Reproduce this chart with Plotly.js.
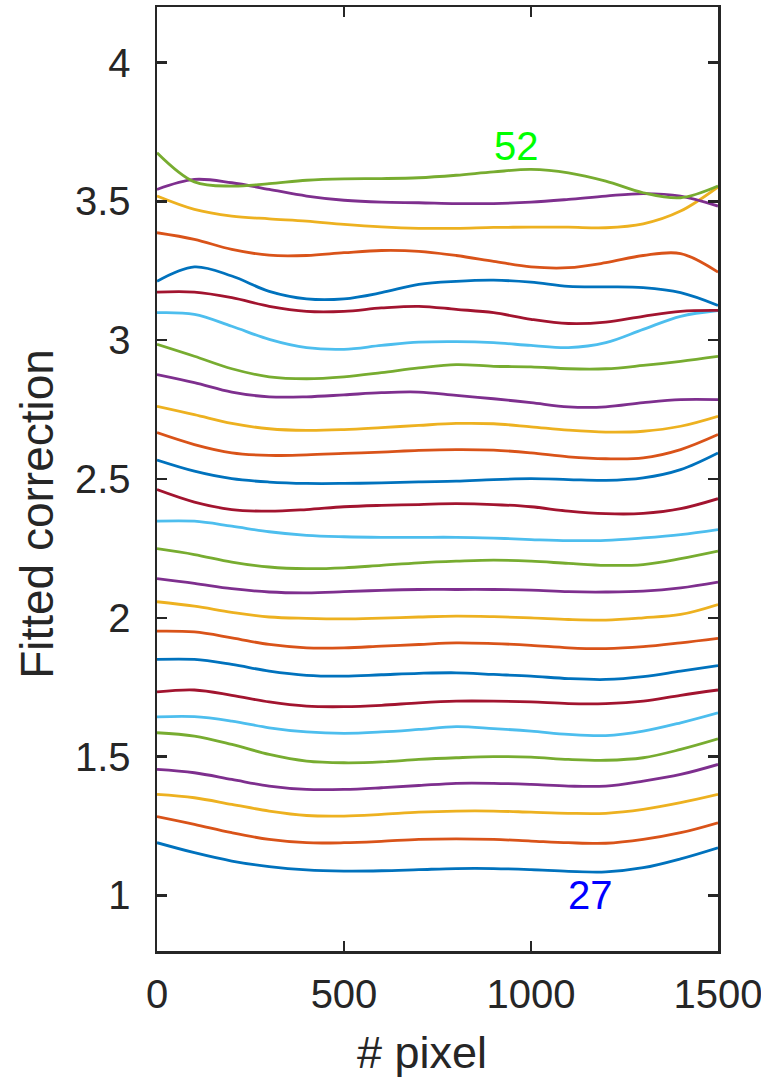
<!DOCTYPE html>
<html>
<head>
<meta charset="utf-8">
<script src="https://cdn.plot.ly/plotly-3.0.1.min.js"></script>
<style>
  html, body { margin: 0; padding: 0; background: #ffffff; }
  #chart { width: 761px; height: 1079px; }
</style>
</head>
<body>
<div id="chart"></div>
<script>
// x positions (pixel index)
const pixelX = [0, 100, 200, 300, 400, 500, 600, 700, 800, 900, 1000, 1100, 1200, 1300, 1400, 1500];

// Fitted correction curves, numbered 27 .. 52 (bottom to top)
const curve27 = [1.190, 1.154, 1.124, 1.104, 1.092, 1.088, 1.089, 1.093, 1.097, 1.097, 1.093, 1.087, 1.085, 1.100, 1.132, 1.172];
const curve28 = [1.284, 1.256, 1.226, 1.202, 1.190, 1.190, 1.195, 1.202, 1.204, 1.202, 1.196, 1.190, 1.188, 1.202, 1.226, 1.262];
const curve29 = [1.364, 1.352, 1.328, 1.304, 1.288, 1.286, 1.292, 1.300, 1.304, 1.304, 1.300, 1.296, 1.296, 1.310, 1.334, 1.364];
const curve30 = [1.454, 1.442, 1.418, 1.394, 1.382, 1.382, 1.388, 1.396, 1.404, 1.404, 1.400, 1.394, 1.394, 1.412, 1.436, 1.472];
const curve31 = [1.586, 1.574, 1.544, 1.508, 1.484, 1.478, 1.481, 1.490, 1.496, 1.500, 1.498, 1.490, 1.487, 1.496, 1.526, 1.564];
const curve32 = [1.643, 1.644, 1.628, 1.604, 1.589, 1.584, 1.589, 1.598, 1.608, 1.601, 1.592, 1.580, 1.576, 1.592, 1.622, 1.658];
const curve33 = [1.733, 1.740, 1.721, 1.697, 1.682, 1.680, 1.685, 1.694, 1.700, 1.700, 1.697, 1.691, 1.691, 1.700, 1.721, 1.740];
const curve34 = [1.850, 1.850, 1.832, 1.808, 1.793, 1.790, 1.795, 1.800, 1.802, 1.796, 1.790, 1.781, 1.778, 1.788, 1.808, 1.828];
const curve35 = [1.952, 1.949, 1.928, 1.904, 1.892, 1.892, 1.898, 1.904, 1.910, 1.907, 1.901, 1.892, 1.889, 1.896, 1.910, 1.926];
const curve36 = [2.058, 2.042, 2.020, 2.003, 1.998, 1.996, 1.999, 2.003, 2.006, 2.004, 2.000, 1.994, 1.992, 2.000, 2.012, 2.048];
const curve37 = [2.141, 2.124, 2.105, 2.093, 2.090, 2.094, 2.099, 2.102, 2.102, 2.102, 2.100, 2.094, 2.093, 2.096, 2.108, 2.129];
const curve38 = [2.249, 2.228, 2.201, 2.183, 2.177, 2.180, 2.189, 2.198, 2.204, 2.208, 2.204, 2.196, 2.189, 2.192, 2.213, 2.240];
const curve39 = [2.348, 2.348, 2.330, 2.310, 2.297, 2.292, 2.290, 2.290, 2.290, 2.287, 2.282, 2.278, 2.279, 2.288, 2.300, 2.318];
const curve40 = [2.462, 2.417, 2.390, 2.384, 2.390, 2.400, 2.405, 2.408, 2.411, 2.408, 2.400, 2.384, 2.375, 2.376, 2.393, 2.429];
const curve41 = [2.568, 2.528, 2.501, 2.489, 2.484, 2.484, 2.486, 2.490, 2.492, 2.498, 2.501, 2.498, 2.495, 2.504, 2.534, 2.594];
const curve42 = [2.667, 2.624, 2.594, 2.585, 2.587, 2.592, 2.597, 2.603, 2.606, 2.604, 2.594, 2.580, 2.573, 2.576, 2.606, 2.660];
const curve43 = [2.762, 2.732, 2.700, 2.681, 2.675, 2.678, 2.685, 2.693, 2.700, 2.699, 2.688, 2.676, 2.669, 2.672, 2.690, 2.726];
const curve44 = [2.876, 2.847, 2.813, 2.796, 2.796, 2.803, 2.811, 2.813, 2.801, 2.789, 2.775, 2.760, 2.760, 2.775, 2.786, 2.786];
const curve45 = [2.985, 2.942, 2.897, 2.868, 2.861, 2.868, 2.883, 2.900, 2.912, 2.906, 2.904, 2.897, 2.897, 2.909, 2.924, 2.942];
const curve46 = [3.099, 3.093, 3.050, 3.003, 2.973, 2.967, 2.981, 2.993, 2.995, 2.991, 2.981, 2.973, 2.991, 3.039, 3.086, 3.107];
const curve47 = [3.173, 3.173, 3.153, 3.122, 3.104, 3.104, 3.116, 3.122, 3.111, 3.099, 3.075, 3.060, 3.065, 3.086, 3.104, 3.107];
const curve48 = [3.212, 3.264, 3.231, 3.176, 3.149, 3.149, 3.171, 3.201, 3.212, 3.216, 3.209, 3.194, 3.192, 3.189, 3.171, 3.125];
const curve49 = [3.387, 3.363, 3.327, 3.306, 3.305, 3.315, 3.323, 3.320, 3.305, 3.284, 3.264, 3.261, 3.279, 3.305, 3.312, 3.245];
const curve50 = [3.519, 3.471, 3.447, 3.437, 3.429, 3.417, 3.408, 3.403, 3.403, 3.406, 3.407, 3.407, 3.405, 3.419, 3.465, 3.552];
const curve51 = [3.543, 3.579, 3.567, 3.543, 3.519, 3.504, 3.497, 3.495, 3.492, 3.492, 3.497, 3.507, 3.519, 3.528, 3.519, 3.483];
const curve52 = [3.675, 3.570, 3.555, 3.564, 3.576, 3.581, 3.582, 3.585, 3.594, 3.606, 3.615, 3.603, 3.573, 3.531, 3.513, 3.555];

const curveIds = [27, 28, 29, 30, 31, 32, 33, 34, 35, 36, 37, 38, 39, 40, 41, 42, 43, 44, 45, 46, 47, 48, 49, 50, 51, 52];
const curveValues = [curve27, curve28, curve29, curve30, curve31, curve32, curve33, curve34, curve35, curve36, curve37, curve38, curve39,
                     curve40, curve41, curve42, curve43, curve44, curve45, curve46, curve47, curve48, curve49, curve50, curve51, curve52];

// Label texts and their positions (data coords)
const labelTexts = ['52', '27'];
const labelX = [960, 1158];
const labelY = [3.698, 1.0];
const labelColors = ['#00FF00', '#0000FF'];

const xTickVals = [0, 500, 1000, 1500];
const yTickVals = [1, 1.5, 2, 2.5, 3, 3.5, 4];
const yTickText = ['1', '1.5', '2', '2.5', '3', '3.5', '4'];

const palette = ['#0072BD', '#D95319', '#EDB120', '#7E2F8E', '#77AC30', '#4DBEEE', '#A2142F'];

const traces = curveValues.map((vals, i) => ({
  type: 'scatter',
  mode: 'lines',
  x: pixelX,
  y: vals,
  name: String(curveIds[i]),
  line: { color: palette[i % palette.length], width: 2.8, shape: 'spline', smoothing: 1 },
  hoverinfo: 'skip'
}));

const axisColor = '#262626';
const fontFamily = 'Liberation Sans, Arial, Helvetica, sans-serif';

const annotations = labelTexts.map((t, i) => ({
  x: labelX[i], y: labelY[i], xref: 'x', yref: 'y',
  text: t, showarrow: false, xanchor: 'center', yanchor: 'middle',
  font: { family: fontFamily, size: 40, color: labelColors[i] }
}));

annotations.push({
  x: -0.214, y: 0.463, xref: 'paper', yref: 'paper',
  text: 'Fitted correction', showarrow: false, textangle: -90,
  xanchor: 'center', yanchor: 'middle',
  font: { family: fontFamily, size: 46, color: axisColor }
});
annotations.push({
  x: 0.4715, y: -0.108, xref: 'paper', yref: 'paper',
  text: '# pixel', showarrow: false,
  xanchor: 'center', yanchor: 'middle',
  font: { family: fontFamily, size: 45, color: axisColor }
});

const layout = {
  width: 761,
  height: 1079,
  margin: { l: 157, r: 43, t: 7, b: 128, pad: 0 },
  paper_bgcolor: '#ffffff',
  plot_bgcolor: '#ffffff',
  showlegend: false,
  font: { family: fontFamily, color: axisColor },
  xaxis: {
    range: [0, 1500],
    tickvals: xTickVals,
    ticktext: xTickVals.map(String),
    ticks: 'inside',
    ticklen: 10,
    tickwidth: 2.5,
    tickcolor: axisColor,
    showline: true,
    linecolor: axisColor,
    linewidth: 2.5,
    mirror: 'ticks',
    showgrid: false,
    zeroline: false,
    tickfont: { family: fontFamily, size: 40, color: axisColor },
    ticklabelstandoff: 6,
    ticklabeloverflow: 'allow'
  },
  yaxis: {
    range: [0.8, 4.2],
    tickvals: yTickVals,
    ticktext: yTickText,
    ticks: 'inside',
    ticklen: 10,
    tickwidth: 2.5,
    tickcolor: axisColor,
    showline: true,
    linecolor: axisColor,
    linewidth: 2.5,
    mirror: 'ticks',
    showgrid: false,
    zeroline: false,
    tickfont: { family: fontFamily, size: 40, color: axisColor },
    ticklabelstandoff: 16,
    ticklabeloverflow: 'allow'
  },
  annotations: annotations
};

Plotly.newPlot('chart', traces, layout, { staticPlot: true, displayModeBar: false });
</script>
</body>
</html>
